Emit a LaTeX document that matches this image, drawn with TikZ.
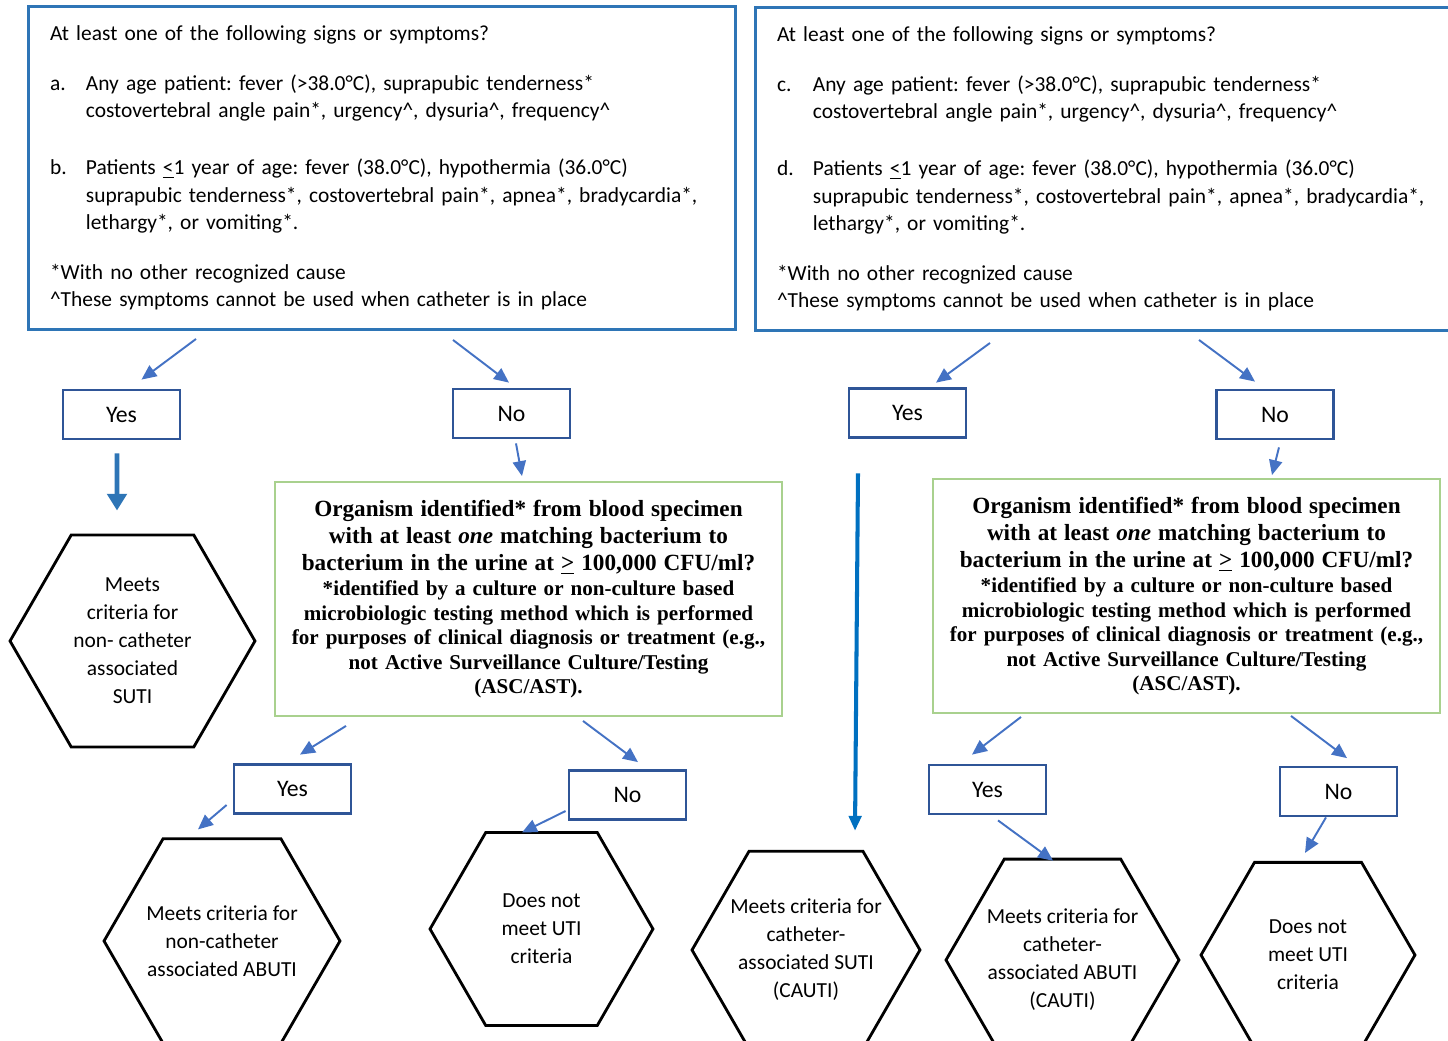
\documentclass[tikz,border=0pt]{standalone}
\usepackage{fontspec}
\setmainfont{Carlito}
\newfontfamily\orgfont{Liberation Serif}
\usepackage{xcolor}
\usetikzlibrary{positioning,calc,shapes.geometric,arrows.meta}
\frenchspacing

\definecolor{sympblue}{RGB}{46,117,182}
\definecolor{ansblue}{RGB}{47,85,151}
\definecolor{flowblue}{RGB}{68,114,196}
\definecolor{bigblue}{RGB}{0,112,192}
\definecolor{orggreen}{RGB}{169,209,142}

\newcommand{\lbl}[1]{\makebox[20.4pt][l]{#1}}

\begin{document}
\begin{tikzpicture}[x=0.02cm, y=-0.02cm,
    sympbox/.style={draw=sympblue, line width=1.7pt, text width=13.28cm, inner xsep=0.44cm,
        minimum height=6.46cm, align=left, font=\fontsize{12.2}{15.6}\selectfont},
    ansbox/.style={draw=ansblue, line width=1.6pt, minimum width=2.34cm, minimum height=0.98cm,
        font=\fontsize{13.5}{16}\selectfont},
    orgbox/.style={draw=orggreen, line width=1.1pt, text width=9.8cm, inner xsep=0.1cm,
        minimum width=10.14cm, minimum height=4.68cm, align=center,
        font=\orgfont\bfseries\fontsize{12}{14}\selectfont},
    hexbox/.style={shape=regular polygon, regular polygon sides=6, draw=black, line width=1.6pt,
        inner sep=-9pt, align=center, font=\fontsize{12.2}{15.9}\selectfont},
    flow/.style={draw=flowblue, line width=1.1pt, -{Triangle[width=7.5pt,length=8.5pt]}}]
\useasboundingbox (0,0) rectangle (1448,1041);

% signs and symptoms
\node[sympbox] (sympL) at (382,168) {At least one of the following signs or symptoms?\\[12.7pt]
\lbl{a.}Any age patient: fever (>38.0°C), suprapubic tenderness*\\
\lbl{}costovertebral angle pain*, urgency\textasciicircum, dysuria\textasciicircum, frequency\textasciicircum\\[16.7pt]
\lbl{b.}Patients \underline{<}1 year of age: fever (38.0°C), hypothermia (36.0°C)\\
\lbl{}suprapubic tenderness*, costovertebral pain*, apnea*, bradycardia*,\\
\lbl{}lethargy*, or vomiting*.\\[12.7pt]
*With no other recognized cause\\
\textasciicircum These symptoms cannot be used when catheter is in place};
\node[sympbox] (sympR) at (1109,169) {At least one of the following signs or symptoms?\\[12.7pt]
\lbl{c.}Any age patient: fever (>38.0°C), suprapubic tenderness*\\
\lbl{}costovertebral angle pain*, urgency\textasciicircum, dysuria\textasciicircum, frequency\textasciicircum\\[16.7pt]
\lbl{d.}Patients \underline{<}1 year of age: fever (38.0°C), hypothermia (36.0°C)\\
\lbl{}suprapubic tenderness*, costovertebral pain*, apnea*, bradycardia*,\\
\lbl{}lethargy*, or vomiting*.\\[12.7pt]
*With no other recognized cause\\
\textasciicircum These symptoms cannot be used when catheter is in place};

\node[ansbox] (yesL) at (121.5,414.5) {Yes};
\node[ansbox] (noL) at (511.5,413.5) {No};
\node[ansbox] (yesR) at (907.5,413) {Yes};
\node[ansbox] (noR) at (1275,414.5) {No};

% blood specimen question
\node[orgbox] (orgL) at (528.5,599) {{\fontsize{13.2}{15.6}\selectfont Organism identified* from blood specimen\\
with at least \textit{one} matching bacterium to\\
bacterium in the urine at \underline{>} 100,000 CFU/ml?\par}
*identified by a culture or non-culture based\\
microbiologic testing method which is performed\\
for purposes of clinical diagnosis or treatment (e.g.,\\
not Active Surveillance Culture/Testing\\
(ASC/AST).};
\node[orgbox] (orgR) at (1186.5,596) {{\fontsize{13.2}{15.6}\selectfont Organism identified* from blood specimen\\
with at least \textit{one} matching bacterium to\\
bacterium in the urine at \underline{>} 100,000 CFU/ml?\par}
*identified by a culture or non-culture based\\
microbiologic testing method which is performed\\
for purposes of clinical diagnosis or treatment (e.g.,\\
not Active Surveillance Culture/Testing\\
(ASC/AST).};

\node[ansbox] (yesLL) at (292.5,789) {Yes};
\node[ansbox] (noLL) at (627.5,795) {No};
\node[ansbox] (yesRR) at (987.5,789.5) {Yes};
\node[ansbox] (noRR) at (1338.5,791.5) {No};

% outcomes
\node[hexbox, minimum size=4.9cm] (hexL) at (132.5,641) {Meets\\ criteria for\\ non- catheter\\ associated\\ SUTI};
\node[hexbox, minimum size=4.72cm] (hexLL) at (222,941) {Meets criteria for\\ non-catheter\\ associated ABUTI};
\node[hexbox, minimum size=4.46cm] (hexM) at (541.5,929) {Does not\\ meet UTI\\ criteria};
\node[hexbox, minimum size=4.56cm] (hexR) at (806,950) {Meets criteria for\\ catheter-\\ associated SUTI\\ (CAUTI)};
\node[hexbox, minimum size=4.66cm] (hexRR) at (1062.5,960) {Meets criteria for\\ catheter-\\ associated ABUTI\\ (CAUTI)};
\node[hexbox, minimum size=4.28cm] (hexE) at (1308,955) {Does not\\ meet UTI\\ criteria};

\draw[flow] ($(sympL.south)+(-186,8)$) -- ($(yesL.north)+(20,-9)$);
\draw[flow] ($(sympL.south)+(71,9)$) -- ($(noL.north)+(-2.5,-5)$);
\draw[draw=sympblue, line width=2.8pt, -{Triangle[width=11pt,length=9.5pt]}] ($(yesL.south)+(-4.5,13)$) -- ($(hexL.north)+(-15.5,-23)$);
\draw[flow] ($(noL.south)+(4.5,4)$) -- ($(orgL.north)+(-6.5,-5)$);
\draw[flow] ($(orgL.south)+(-182.5,9)$) -- ($(yesLL.north)+(7.5,-8.5)$);
\draw[flow] ($(orgL.south)+(54.5,4)$) -- ($(noLL.north)+(10.5,-7)$);
\draw[flow] ($(yesLL.west)+(-6,16)$) -- ($(hexLL.north)+(-24,-8)$);
\draw[flow] ($(noLL.west)+(-2,16)$) -- ($(hexM.north)+(-19.5,1.5)$);

\draw[flow] ($(sympR.south)+(-119,11)$) -- ($(yesR.north)+(28.5,-4.5)$);
\draw[flow] ($(sympR.south)+(90,8)$) -- ($(noR.north)+(-20,-7)$);
\draw[draw=bigblue, line width=2.3pt, -{Triangle[width=7pt,length=8.5pt]}] ($(yesR.south)+(-49.5,34.5)$) -- ($(hexR.north)+(49,-19)$);
\draw[flow] ($(noR.south)+(4,7)$) -- ($(orgR.north)+(85.5,-3)$);
\draw[flow] ($(orgR.south)+(-165.5,3)$) -- ($(yesRR.north)+(-15.5,-9)$);
\draw[flow] ($(orgR.south)+(104.5,2)$) -- ($(noRR.north)+(8.5,-7.5)$);
\draw[flow] ($(yesRR.south)+(10.5,5)$) -- ($(hexRR.north)+(-9.5,3)$);
\draw[flow] ($(noRR.south)+(-12.5,0)$) -- ($(hexE.north)+(-3,-8)$);
\end{tikzpicture}
\end{document}
